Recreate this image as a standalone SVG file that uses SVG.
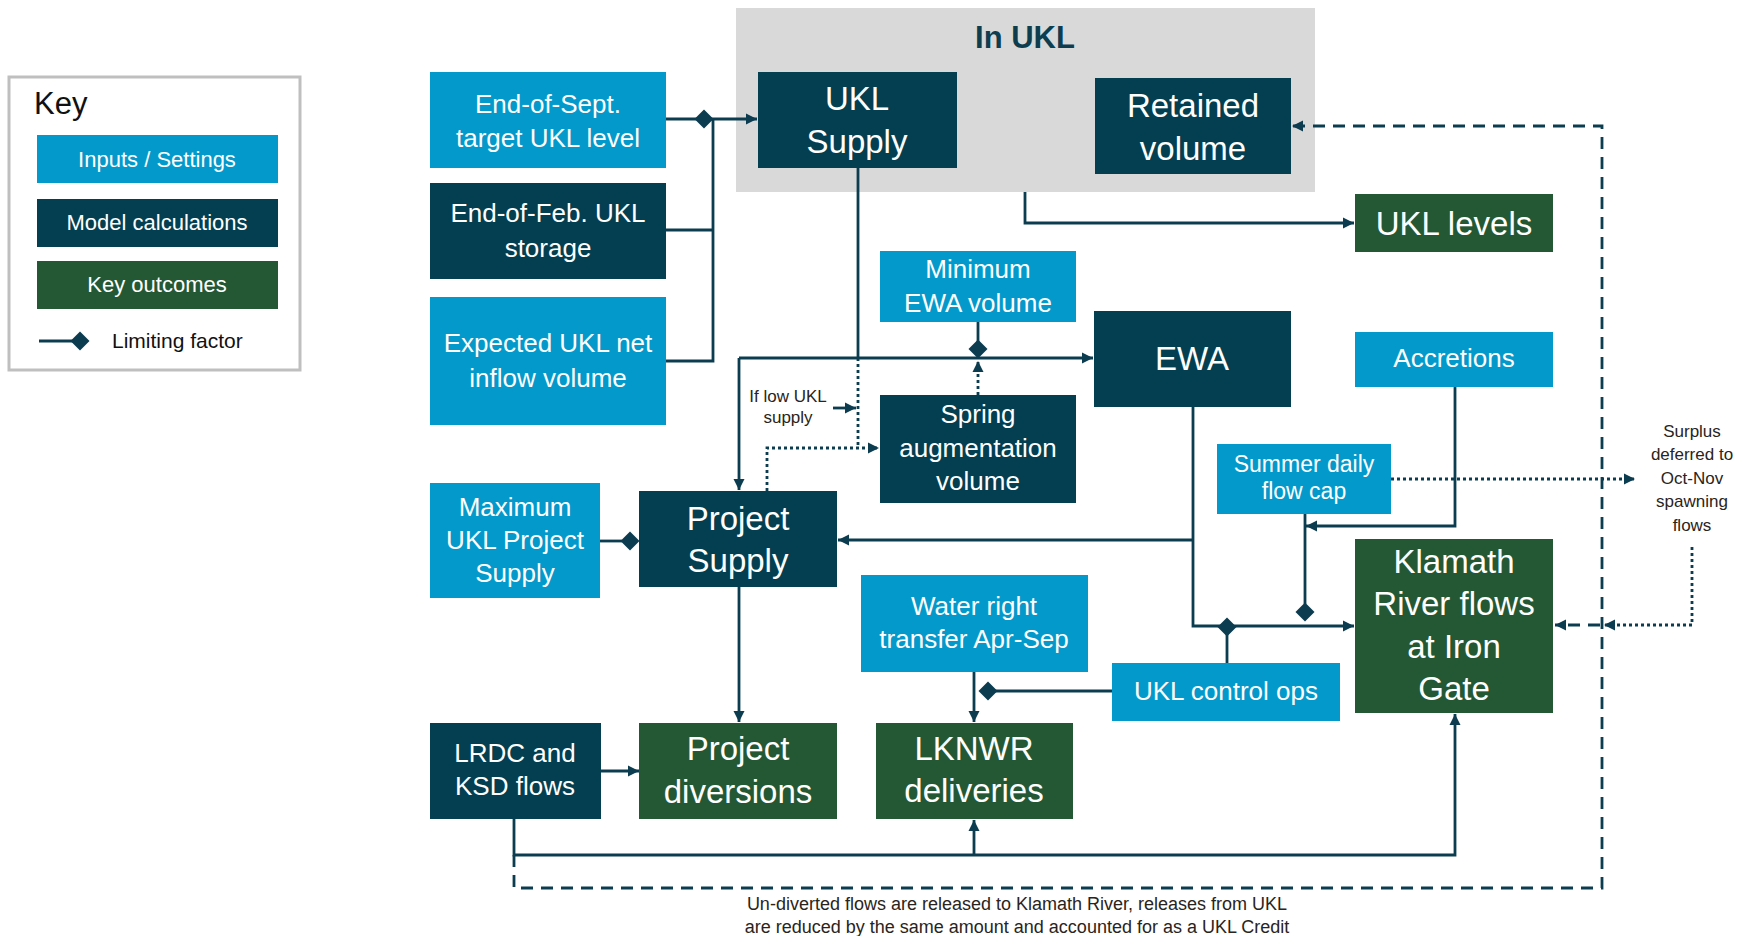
<svg xmlns="http://www.w3.org/2000/svg" width="1739" height="936" viewBox="0 0 1739 936">
<style>
.inp{fill:#0399cb}
.mdl{fill:#033f51}
.out{fill:#245834}
.t{font-family:"Liberation Sans",Arial,sans-serif;fill:#ffffff;text-anchor:middle}
.big{font-size:33px}
.med{font-size:26px}
.sm{font-size:23px}
.lg{font-size:22px}
.note{font-family:"Liberation Sans",Arial,sans-serif;fill:#2a2420;text-anchor:middle;font-size:17px}
.foot{font-size:18px}
.c{fill:none;stroke:#0b3c4f;stroke-width:2.8}
.dot{stroke-dasharray:3 3}
.dash{stroke-dasharray:12 8}
.dia{fill:#0b3c4f}
</style>
<defs>
<marker id="ah" markerUnits="userSpaceOnUse" markerWidth="12" markerHeight="12" refX="11" refY="6" orient="auto">
<path d="M0,0.5 L11,6 L0,11.5 z" fill="#0b3c4f"/>
</marker>
<path id="dm" d="M0,-9.5 L9.5,0 L0,9.5 L-9.5,0 z"/>
</defs>
<rect width="1739" height="936" fill="#ffffff"/>

<g id="key">
<rect x="9" y="77" width="291" height="293" fill="#ffffff" stroke="#bfbfbf" stroke-width="3"/>
<text x="34" y="114" font-family="Liberation Sans,Arial,sans-serif" font-size="31" fill="#111111">Key</text>
<rect class="inp" x="37" y="135" width="241" height="48"/>
<text class="t lg" x="157" y="167">Inputs / Settings</text>
<rect class="mdl" x="37" y="199" width="241" height="48"/>
<text class="t lg" x="157" y="230">Model calculations</text>
<rect class="out" x="37" y="261" width="241" height="48"/>
<text class="t lg" x="157" y="292">Key outcomes</text>
<line class="c" x1="39" y1="341" x2="74" y2="341"/>
<use href="#dm" x="80" y="341" class="dia"/>
<text x="112" y="348" font-family="Liberation Sans,Arial,sans-serif" font-size="21" fill="#111111">Limiting factor</text>
</g>

<g id="in-ukl">
<rect x="736" y="8" width="579" height="184" fill="#d9d9d9"/>
<text x="1025" y="48" font-family="Liberation Sans,Arial,sans-serif" font-size="31" font-weight="bold" fill="#0d3d4f" text-anchor="middle">In UKL</text>
</g>

<g id="end-sept"><rect class="inp" x="430" y="72" width="236" height="96"/>
<text class="t med" x="548" y="113">End-of-Sept.</text><text class="t med" x="548" y="147">target UKL level</text></g>
<g id="end-feb"><rect class="mdl" x="430" y="183" width="236" height="96"/>
<text class="t med" x="548" y="222">End-of-Feb. UKL</text><text class="t med" x="548" y="257">storage</text></g>
<g id="expected"><rect class="inp" x="430" y="297" width="236" height="128"/>
<text class="t med" x="548" y="352">Expected UKL net</text><text class="t med" x="548" y="387">inflow volume</text></g>
<g id="ukl-supply"><rect class="mdl" x="758" y="72" width="199" height="96"/>
<text class="t big" x="857" y="110">UKL</text><text class="t big" x="857" y="153">Supply</text></g>
<g id="retained"><rect class="mdl" x="1095" y="78" width="196" height="96"/>
<text class="t big" x="1193" y="117">Retained</text><text class="t big" x="1193" y="160">volume</text></g>
<g id="ukl-levels"><rect class="out" x="1355" y="194" width="198" height="58"/>
<text class="t big" x="1454" y="235">UKL levels</text></g>
<g id="accretions"><rect class="inp" x="1355" y="332" width="198" height="55"/>
<text class="t med" x="1454" y="367">Accretions</text></g>
<g id="min-ewa"><rect class="inp" x="880" y="251" width="196" height="71"/>
<text class="t med" x="978" y="278">Minimum</text><text class="t med" x="978" y="312">EWA volume</text></g>
<g id="ewa"><rect class="mdl" x="1094" y="311" width="197" height="96"/>
<text class="t big" x="1192" y="370">EWA</text></g>
<g id="spring-aug"><rect class="mdl" x="880" y="395" width="196" height="108"/>
<text class="t med" x="978" y="423">Spring</text><text class="t med" x="978" y="457">augmentation</text><text class="t med" x="978" y="490">volume</text></g>
<g id="summer-cap"><rect class="inp" x="1217" y="444" width="174" height="70"/>
<text class="t sm" x="1304" y="472">Summer daily</text><text class="t sm" x="1304" y="499">flow cap</text></g>
<g id="max-ukl"><rect class="inp" x="430" y="483" width="170" height="115"/>
<text class="t med" x="515" y="516">Maximum</text><text class="t med" x="515" y="549">UKL Project</text><text class="t med" x="515" y="582">Supply</text></g>
<g id="project-supply"><rect class="mdl" x="639" y="491" width="198" height="96"/>
<text class="t big" x="738" y="530">Project</text><text class="t big" x="738" y="572">Supply</text></g>
<g id="water-right"><rect class="inp" x="861" y="575" width="227" height="97"/>
<text class="t med" x="974" y="615">Water right</text><text class="t med" x="974" y="648">transfer Apr-Sep</text></g>
<g id="ukl-control"><rect class="inp" x="1112" y="663" width="228" height="58"/>
<text class="t med" x="1226" y="700">UKL control ops</text></g>
<g id="klamath"><rect class="out" x="1355" y="539" width="198" height="174"/>
<text class="t big" x="1454" y="573">Klamath</text><text class="t big" x="1454" y="615">River flows</text><text class="t big" x="1454" y="658">at Iron</text><text class="t big" x="1454" y="700">Gate</text></g>
<g id="lrdc"><rect class="mdl" x="430" y="723" width="171" height="96"/>
<text class="t med" x="515" y="762">LRDC and</text><text class="t med" x="515" y="795">KSD flows</text></g>
<g id="project-div"><rect class="out" x="639" y="723" width="198" height="96"/>
<text class="t big" x="738" y="760">Project</text><text class="t big" x="738" y="803">diversions</text></g>
<g id="lknwr"><rect class="out" x="876" y="723" width="197" height="96"/>
<text class="t big" x="974" y="760">LKNWR</text><text class="t big" x="974" y="802">deliveries</text></g>

<g id="connectors">
<polyline class="c" points="666,119 757,119" marker-end="url(#ah)"/>
<polyline class="c" points="713,119 713,361 666,361"/>
<polyline class="c" points="666,230 713,230"/>
<polyline class="c" points="1025,192 1025,223 1354,223" marker-end="url(#ah)"/>
<polyline class="c" points="858,168 858,358"/>
<polyline class="c" points="739,358 1093,358" marker-end="url(#ah)"/>
<polyline class="c" points="739,358 739,490" marker-end="url(#ah)"/>
<polyline class="c" points="978,322 978,342"/>
<polyline class="c dot" points="978,395 978,361" marker-end="url(#ah)"/>
<polyline class="c dot" points="858,358 858,448"/>
<polyline class="c" points="833,408 856,408" marker-end="url(#ah)"/>
<polyline class="c dot" points="767,491 767,448 879,448" marker-end="url(#ah)"/>
<polyline class="c" points="1193,407 1193,626 1354,626" marker-end="url(#ah)"/>
<polyline class="c" points="1193,540 838,540" marker-end="url(#ah)"/>
<polyline class="c" points="1227,663 1227,630"/>
<polyline class="c" points="1455,387 1455,526 1306,526" marker-end="url(#ah)"/>
<polyline class="c" points="1305,514 1305,604"/>
<polyline class="c" points="600,541 622,541"/>
<polyline class="c" points="739,587 739,722" marker-end="url(#ah)"/>
<polyline class="c" points="601,771 639,771" marker-end="url(#ah)"/>
<polyline class="c" points="974,672 974,722" marker-end="url(#ah)"/>
<polyline class="c" points="1112,691 990,691"/>
<polyline class="c" points="514,819 514,855 1455,855 1455,714" marker-end="url(#ah)"/>
<polyline class="c" points="974,855 974,820" marker-end="url(#ah)"/>
<polyline class="c dash" points="514,855 514,888 1602,888 1602,126 1292,126" marker-end="url(#ah)"/>
<polyline class="c dot" points="1391,479 1635,479" marker-end="url(#ah)"/>
<polyline class="c dot" points="1692,547 1692,625 1604,625" marker-end="url(#ah)"/>
<polyline class="c dash" points="1600,625 1555,625" marker-end="url(#ah)"/>
<use href="#dm" x="704" y="119" class="dia"/>
<use href="#dm" x="978" y="349" class="dia"/>
<use href="#dm" x="630" y="541" class="dia"/>
<use href="#dm" x="1227" y="627" class="dia"/>
<use href="#dm" x="1305" y="612" class="dia"/>
<use href="#dm" x="988" y="691" class="dia"/>
</g>

<g id="labels">
<text class="note" x="788" y="402">If low UKL</text>
<text class="note" x="788" y="423">supply</text>
<text class="note" x="1692" y="437">Surplus</text>
<text class="note" x="1692" y="460">deferred to</text>
<text class="note" x="1692" y="484">Oct-Nov</text>
<text class="note" x="1692" y="507">spawning</text>
<text class="note" x="1692" y="531">flows</text>
<text class="note foot" x="1017" y="910">Un-diverted flows are released to Klamath River, releases from UKL</text>
<text class="note foot" x="1017" y="933">are reduced by the same amount and accounted for as a UKL Credit</text>
</g>
</svg>
